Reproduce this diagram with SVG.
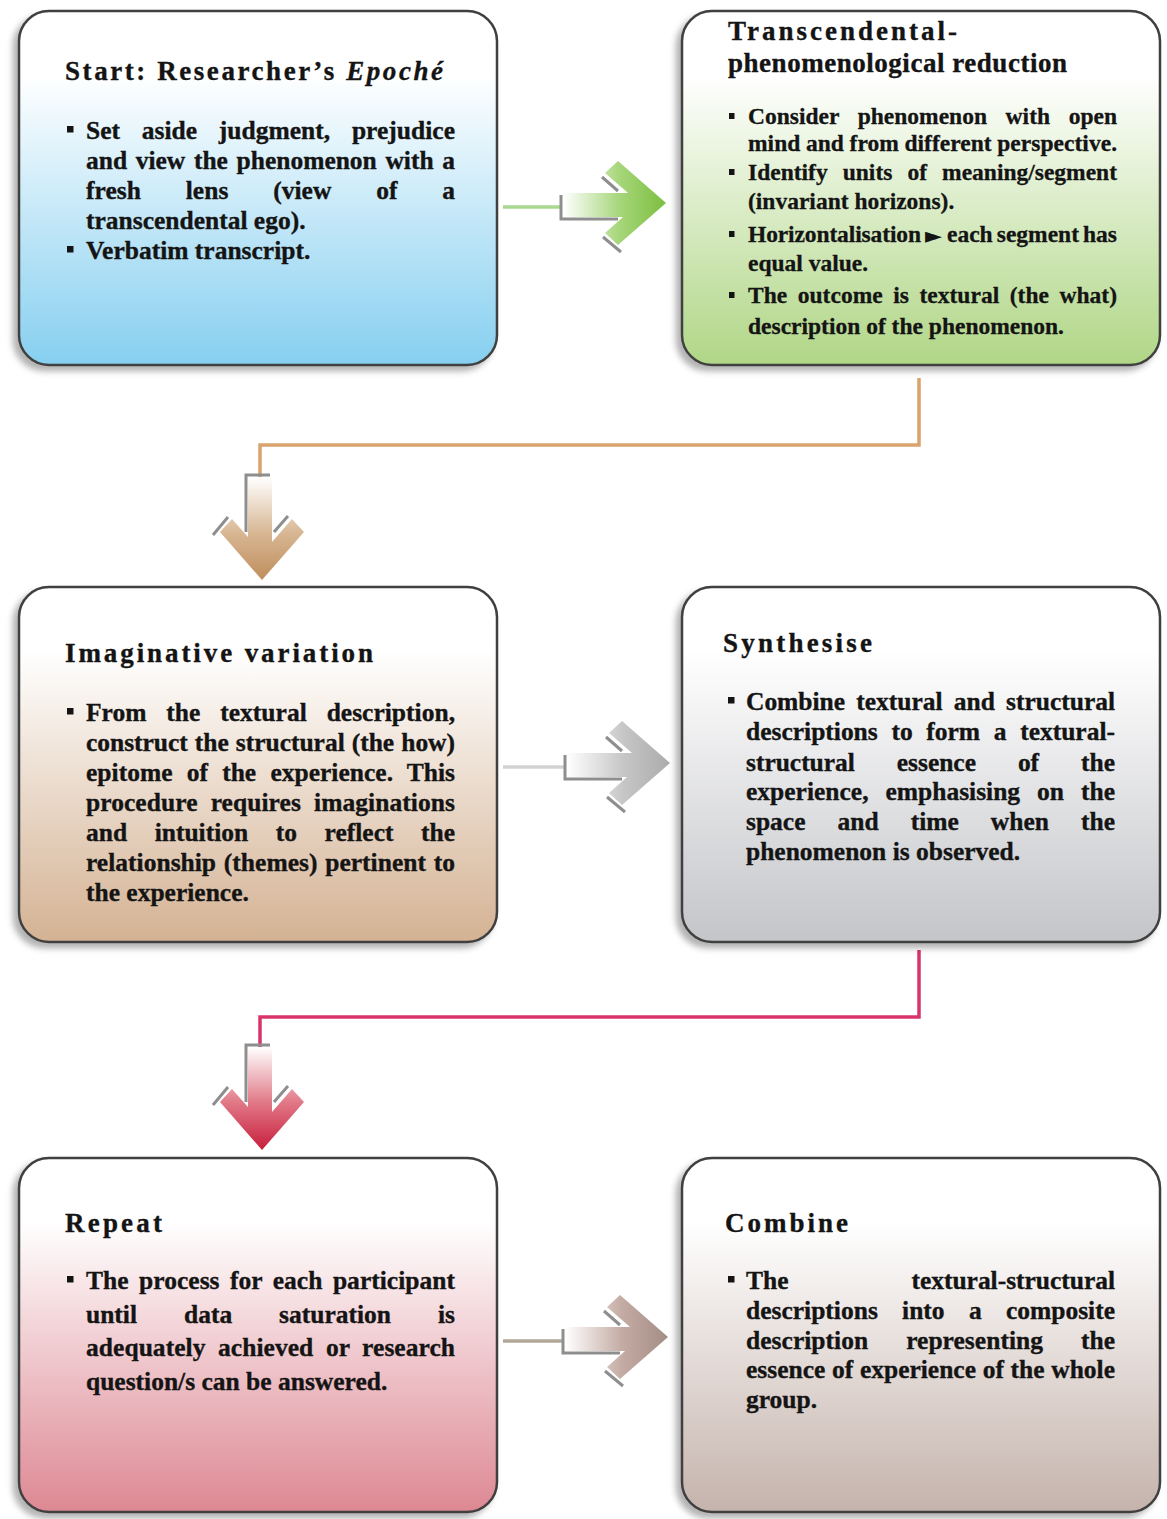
<svg xmlns="http://www.w3.org/2000/svg" xmlns:xlink="http://www.w3.org/1999/xlink" width="1167" height="1519" viewBox="0 0 1167 1519">
  <style>
    .box { stroke: #3f3f3f; stroke-width: 2.5; filter: url(#shadow); }
    .t { font-family: "Liberation Serif", "Times New Roman", serif; font-weight: bold; font-size: 27px; fill: #141414; stroke: #141414; stroke-width: 0.35; }
    .b { font-family: "Liberation Serif", "Times New Roman", serif; font-weight: bold; font-size: 25.5px; fill: #141414; stroke: #141414; stroke-width: 0.35; }
    .b2 { font-family: "Liberation Serif", "Times New Roman", serif; font-weight: bold; font-size: 23.5px; fill: #141414; stroke: #141414; stroke-width: 0.3; }
    .dot { fill: #141414; }
    .edge { fill: none; stroke: #8e8e8e; stroke-width: 3; }
    .elbow { fill: none; stroke-width: 3.5; }
  </style>
  <defs>
    <filter id="shadow" x="-10%" y="-10%" width="120%" height="125%">
      <feDropShadow dx="-5" dy="5" stdDeviation="3" flood-color="#000" flood-opacity="0.3"/>
    </filter>
    <linearGradient id="fBlue" x1="0" y1="0" x2="0" y2="1">
      <stop offset="0.18" stop-color="#ffffff"/><stop offset="1" stop-color="#86cff0"/>
    </linearGradient>
    <linearGradient id="fGreen" x1="0" y1="0" x2="0" y2="1">
      <stop offset="0.18" stop-color="#ffffff"/><stop offset="1" stop-color="#b0d686"/>
    </linearGradient>
    <linearGradient id="fTan" x1="0" y1="0" x2="0" y2="1">
      <stop offset="0.18" stop-color="#ffffff"/><stop offset="1" stop-color="#d4b293"/>
    </linearGradient>
    <linearGradient id="fGrey" x1="0" y1="0" x2="0" y2="1">
      <stop offset="0.18" stop-color="#ffffff"/><stop offset="1" stop-color="#c4c5c9"/>
    </linearGradient>
    <linearGradient id="fPink" x1="0" y1="0" x2="0" y2="1">
      <stop offset="0.18" stop-color="#ffffff"/><stop offset="1" stop-color="#dd8893"/>
    </linearGradient>
    <linearGradient id="fTaupe" x1="0" y1="0" x2="0" y2="1">
      <stop offset="0.18" stop-color="#ffffff"/><stop offset="1" stop-color="#c5b3ac"/>
    </linearGradient>

    <!-- arrow fills run along the arrow's own axis: faded tail, solid head -->
    <linearGradient id="aGreen" x1="0" y1="0" x2="1" y2="0">
      <stop offset="0" stop-color="#a6d67a" stop-opacity="0"/>
      <stop offset="0.55" stop-color="#a6d67a"/>
      <stop offset="1" stop-color="#7cbf3f"/>
    </linearGradient>
    <linearGradient id="aGrey" x1="0" y1="0" x2="1" y2="0">
      <stop offset="0" stop-color="#c6c6c6" stop-opacity="0"/>
      <stop offset="0.55" stop-color="#c6c6c6"/>
      <stop offset="1" stop-color="#ababab"/>
    </linearGradient>
    <linearGradient id="aTaupe" x1="0" y1="0" x2="1" y2="0">
      <stop offset="0" stop-color="#c4aca4" stop-opacity="0"/>
      <stop offset="0.55" stop-color="#c4aca4"/>
      <stop offset="1" stop-color="#a48d84"/>
    </linearGradient>
    <linearGradient id="aTan" x1="0" y1="0" x2="1" y2="0">
      <stop offset="0" stop-color="#d7b692" stop-opacity="0"/>
      <stop offset="0.55" stop-color="#d7b692"/>
      <stop offset="1" stop-color="#bf8e5d"/>
    </linearGradient>
    <linearGradient id="aRed" x1="0" y1="0" x2="1" y2="0">
      <stop offset="0" stop-color="#e07684" stop-opacity="0"/>
      <stop offset="0.55" stop-color="#e07684"/>
      <stop offset="1" stop-color="#c81e3c"/>
    </linearGradient>

    <!-- block arrow pointing +x with its tip at the origin -->
    <path id="arrowShape" d="M0 0 L-48 -42 L-61 -30 L-38 -10 L-103 -10 L-103 14 L-43 14 L-61 30 L-48 42 Z"/>
    <path id="arrowEdge" d="M-105 -8 V16 H-48 M-64 -26 L-48 -12 M-63 34 L-45 49"/>
  </defs>

  <rect width="1167" height="1519" fill="#ffffff"/>

  <g id="connectors">
    <!-- Epoché -> reduction -->
    <line x1="503" y1="207" x2="561" y2="207" stroke="#a9d98f" stroke-width="3.5"/>
    <g transform="translate(666,203)">
      <use xlink:href="#arrowShape" href="#arrowShape" fill="url(#aGreen)"/>
      <use xlink:href="#arrowEdge" href="#arrowEdge" class="edge"/>
    </g>
    <!-- reduction -> imaginative variation -->
    <path class="elbow" stroke="#d8a36c" d="M919 378 V445 H260 V477"/>
    <g transform="translate(262,580) rotate(90)">
      <use xlink:href="#arrowShape" href="#arrowShape" fill="url(#aTan)"/>
      <use xlink:href="#arrowEdge" href="#arrowEdge" class="edge"/>
    </g>
    <!-- imaginative variation -> synthesise -->
    <line x1="503" y1="767" x2="565" y2="767" stroke="#d2d2d2" stroke-width="3.5"/>
    <g transform="translate(670,763)">
      <use xlink:href="#arrowShape" href="#arrowShape" fill="url(#aGrey)"/>
      <use xlink:href="#arrowEdge" href="#arrowEdge" class="edge"/>
    </g>
    <!-- synthesise -> repeat -->
    <path class="elbow" stroke="#d9346a" d="M919 950 V1017 H260 V1047"/>
    <g transform="translate(262,1150) rotate(90)">
      <use xlink:href="#arrowShape" href="#arrowShape" fill="url(#aRed)"/>
      <use xlink:href="#arrowEdge" href="#arrowEdge" class="edge"/>
    </g>
    <!-- repeat -> combine -->
    <line x1="503" y1="1341" x2="563" y2="1341" stroke="#b2a898" stroke-width="3.5"/>
    <g transform="translate(668,1337)">
      <use xlink:href="#arrowShape" href="#arrowShape" fill="url(#aTaupe)"/>
      <use xlink:href="#arrowEdge" href="#arrowEdge" class="edge"/>
    </g>
  </g>

  <g id="node-epoche">
    <rect class="box" x="19" y="11" width="478" height="354" rx="30" fill="url(#fBlue)"/>
    <text class="t" x="65" y="80" textLength="378" lengthAdjust="spacing">Start: Researcher’s <tspan font-style="italic">Epoché</tspan></text>
    <rect class="dot" x="67" y="126" width="6.5" height="6.5"/>
    <text class="b" x="86" y="139" word-spacing="15.3" textLength="369" lengthAdjust="spacing">Set aside judgment, prejudice</text>
    <text class="b" x="86" y="169" word-spacing="2.3" textLength="369" lengthAdjust="spacing">and view the phenomenon with a</text>
    <text class="b" x="86" y="199" word-spacing="38.4" textLength="369" lengthAdjust="spacing">fresh lens (view of a</text>
    <text class="b" x="86" y="229">transcendental ego).</text>
    <rect class="dot" x="67" y="246" width="6.5" height="6.5"/>
    <text class="b" x="86" y="259">Verbatim transcript.</text>
  </g>

  <g id="node-reduction">
    <rect class="box" x="682" y="11" width="478" height="354" rx="30" fill="url(#fGreen)"/>
    <text class="t" x="728" y="40" textLength="229" lengthAdjust="spacing">Transcendental-</text>
    <text class="t" x="728" y="72" textLength="339" lengthAdjust="spacing">phenomenological reduction</text>
    <rect class="dot" x="729" y="113" width="5.5" height="6"/>
    <text class="b2" x="748" y="124" word-spacing="12.7" textLength="369" lengthAdjust="spacing">Consider phenomenon with open</text>
    <text class="b2" x="748" y="151" word-spacing="-0.3" textLength="369" lengthAdjust="spacing">mind and from different perspective.</text>
    <rect class="dot" x="729" y="169" width="5.5" height="6"/>
    <text class="b2" x="748" y="180" word-spacing="9.2" textLength="369" lengthAdjust="spacing">Identify units of meaning/segment</text>
    <text class="b2" x="748" y="209">(invariant horizons).</text>
    <rect class="dot" x="729" y="231" width="5.5" height="6"/>
    <text class="b2" x="748" y="242" textLength="173" lengthAdjust="spacing">Horizontalisation</text>
    <text x="925" y="243" font-family="DejaVu Sans, sans-serif" font-size="22" fill="#141414">►</text>
    <text class="b2" x="947" y="242" word-spacing="-1.8" textLength="170" lengthAdjust="spacing">each segment has</text>
    <text class="b2" x="748" y="271">equal value.</text>
    <rect class="dot" x="729" y="292" width="5.5" height="6"/>
    <text class="b2" x="748" y="303" word-spacing="4.7" textLength="369" lengthAdjust="spacing">The outcome is textural (the what)</text>
    <text class="b2" x="748" y="334">description of the phenomenon.</text>
  </g>

  <g id="node-imaginative">
    <rect class="box" x="19" y="587" width="478" height="355" rx="30" fill="url(#fTan)"/>
    <text class="t" x="65" y="662" textLength="308" lengthAdjust="spacing">Imaginative variation</text>
    <rect class="dot" x="67" y="708" width="6.5" height="6.5"/>
    <text class="b" x="86" y="721" word-spacing="13.5" textLength="369" lengthAdjust="spacing">From the textural description,</text>
    <text class="b" x="86" y="751" word-spacing="0.7" textLength="369" lengthAdjust="spacing">construct the structural (the how)</text>
    <text class="b" x="86" y="781" word-spacing="7.8" textLength="369" lengthAdjust="spacing">epitome of the experience. This</text>
    <text class="b" x="86" y="811" word-spacing="6.7" textLength="369" lengthAdjust="spacing">procedure requires imaginations</text>
    <text class="b" x="86" y="841" word-spacing="21.1" textLength="369" lengthAdjust="spacing">and intuition to reflect the</text>
    <text class="b" x="86" y="871" word-spacing="1.4" textLength="369" lengthAdjust="spacing">relationship (themes) pertinent to</text>
    <text class="b" x="86" y="901">the experience.</text>
  </g>

  <g id="node-synthesise">
    <rect class="box" x="682" y="587" width="478" height="355" rx="30" fill="url(#fGrey)"/>
    <text class="t" x="723" y="652" textLength="149" lengthAdjust="spacing">Synthesise</text>
    <rect class="dot" x="728" y="697" width="6.5" height="6.5"/>
    <text class="b" x="746" y="710" word-spacing="4.9" textLength="369" lengthAdjust="spacing">Combine textural and structural</text>
    <text class="b" x="746" y="740" word-spacing="7.3" textLength="369" lengthAdjust="spacing">descriptions to form a textural-</text>
    <text class="b" x="746" y="771" word-spacing="35.6" textLength="369" lengthAdjust="spacing">structural essence of the</text>
    <text class="b" x="746" y="800" word-spacing="10.6" textLength="369" lengthAdjust="spacing">experience, emphasising on the</text>
    <text class="b" x="746" y="830" word-spacing="25.7" textLength="369" lengthAdjust="spacing">space and time when the</text>
    <text class="b" x="746" y="860">phenomenon is observed.</text>
  </g>

  <g id="node-repeat">
    <rect class="box" x="19" y="1158" width="478" height="354" rx="30" fill="url(#fPink)"/>
    <text class="t" x="65" y="1232" textLength="97" lengthAdjust="spacing">Repeat</text>
    <rect class="dot" x="67" y="1276" width="6.5" height="6.5"/>
    <text class="b" x="86" y="1289" word-spacing="4.1" textLength="369" lengthAdjust="spacing">The process for each participant</text>
    <text class="b" x="86" y="1323" word-spacing="40.6" textLength="369" lengthAdjust="spacing">until data saturation is</text>
    <text class="b" x="86" y="1356" word-spacing="6.1" textLength="369" lengthAdjust="spacing">adequately achieved or research</text>
    <text class="b" x="86" y="1390">question/s can be answered.</text>
  </g>

  <g id="node-combine">
    <rect class="box" x="682" y="1158" width="478" height="354" rx="30" fill="url(#fTaupe)"/>
    <text class="t" x="725" y="1232" textLength="123" lengthAdjust="spacing">Combine</text>
    <rect class="dot" x="728" y="1276" width="6.5" height="6.5"/>
    <text class="b" x="746" y="1289" word-spacing="116.7" textLength="369" lengthAdjust="spacing">The textural-structural</text>
    <text class="b" x="746" y="1319" word-spacing="17.9" textLength="369" lengthAdjust="spacing">descriptions into a composite</text>
    <text class="b" x="746" y="1349" word-spacing="31.5" textLength="369" lengthAdjust="spacing">description representing the</text>
    <text class="b" x="746" y="1378" word-spacing="0.3" textLength="369" lengthAdjust="spacing">essence of experience of the whole</text>
    <text class="b" x="746" y="1408">group.</text>
  </g>
</svg>
